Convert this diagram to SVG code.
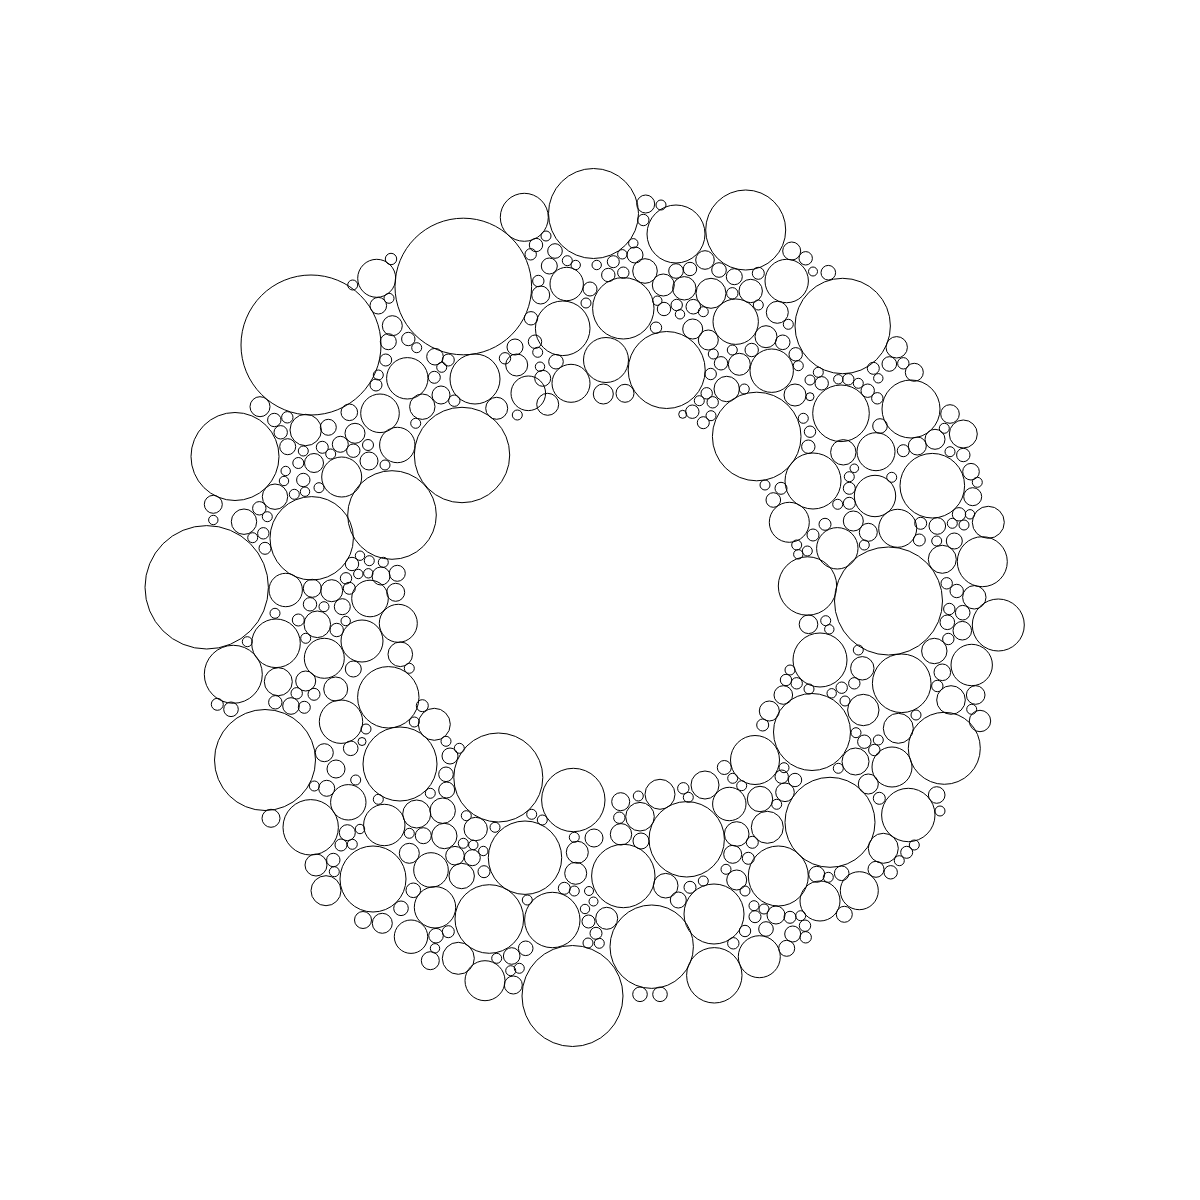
<svg xmlns="http://www.w3.org/2000/svg" width="1200" height="1200" viewBox="0 0 1200 1200">
<style>circle{fill:none;stroke:#000;stroke-width:1}</style>
<rect width="1200" height="1200" fill="#fff"/>
<g id="packing">
<circle cx="311" cy="345" r="70"/><circle cx="352.7" cy="285" r="5"/><circle cx="260" cy="406.7" r="10"/><circle cx="235" cy="456.5" r="44"/>
<circle cx="274.3" cy="420" r="6.7"/><circle cx="287.3" cy="417.3" r="5.7"/><circle cx="280.7" cy="432.3" r="6.7"/><circle cx="305.7" cy="430" r="15.7"/>
<circle cx="328.3" cy="427.3" r="8"/><circle cx="349.3" cy="412.3" r="8.3"/><circle cx="287.7" cy="446.7" r="8"/><circle cx="303.3" cy="451" r="5"/>
<circle cx="322.3" cy="447.3" r="6"/><circle cx="340.3" cy="444.3" r="8"/><circle cx="330.7" cy="454" r="5"/><circle cx="355" cy="433.3" r="10"/>
<circle cx="353.3" cy="450.7" r="6.7"/><circle cx="298.3" cy="463" r="5.5"/><circle cx="314" cy="463" r="9.5"/>
<circle cx="213.3" cy="504.3" r="9"/><circle cx="213.3" cy="520" r="4.7"/><circle cx="206.7" cy="587.3" r="61.7"/><circle cx="244" cy="521.7" r="12.7"/>
<circle cx="259.3" cy="508.3" r="6.7"/><circle cx="267.3" cy="516.7" r="5"/><circle cx="275" cy="496.7" r="12.7"/><circle cx="285.7" cy="471" r="4.7"/>
<circle cx="284" cy="481" r="4.7"/><circle cx="294.3" cy="494.3" r="5"/><circle cx="303.3" cy="480" r="6.7"/><circle cx="305" cy="491.7" r="4.7"/>
<circle cx="319" cy="487.7" r="5"/><circle cx="341.7" cy="477" r="20"/><circle cx="252.7" cy="537.7" r="5"/><circle cx="263.3" cy="533.3" r="5.7"/>
<circle cx="265" cy="548.3" r="6"/><circle cx="311.7" cy="538.3" r="41.7"/><circle cx="392" cy="515" r="44.3"/><circle cx="360" cy="555.7" r="4.7"/>
<circle cx="352" cy="564" r="6.7"/><circle cx="358.3" cy="574" r="4.7"/><circle cx="346" cy="578.3" r="5.7"/><circle cx="349.3" cy="588.3" r="6"/>
<circle cx="285.7" cy="590" r="16.7"/><circle cx="312.3" cy="588.3" r="9"/><circle cx="331.7" cy="590.7" r="11"/><circle cx="310" cy="604.3" r="6.7"/>
<circle cx="324" cy="606.7" r="5"/><circle cx="342.3" cy="606.7" r="8"/><circle cx="370" cy="598.5" r="18.3"/><circle cx="275" cy="613.3" r="5"/>
<circle cx="298.3" cy="620" r="6"/><circle cx="317.3" cy="624.3" r="13.3"/><circle cx="336.7" cy="630" r="6.7"/><circle cx="345.7" cy="621" r="4.7"/>
<circle cx="362" cy="641" r="21"/><circle cx="247.3" cy="641.7" r="5"/><circle cx="276" cy="643.3" r="24.3"/><circle cx="305.7" cy="638.3" r="5"/>
<circle cx="324.3" cy="658.3" r="20"/><circle cx="233.3" cy="674.3" r="29"/><circle cx="278.3" cy="681.7" r="14"/><circle cx="305.7" cy="681" r="10"/>
<circle cx="296.7" cy="693.3" r="5.7"/><circle cx="314" cy="694.3" r="6"/><circle cx="353.3" cy="669" r="8"/><circle cx="335.7" cy="689" r="12"/>
<circle cx="217.3" cy="704.3" r="6"/><circle cx="231" cy="709.3" r="7.3"/><circle cx="275.3" cy="702.3" r="6.7"/><circle cx="291" cy="706" r="8.3"/>
<circle cx="304.3" cy="707.3" r="6"/><circle cx="341" cy="721.7" r="21.7"/><circle cx="265" cy="760" r="50.5"/><circle cx="324.3" cy="752.7" r="9"/>
<circle cx="350.7" cy="748.3" r="7.3"/><circle cx="336" cy="769" r="9"/><circle cx="366" cy="729" r="5"/><circle cx="362" cy="741.5" r="4"/>
<circle cx="462" cy="455" r="47.7"/><circle cx="385" cy="465" r="5"/><circle cx="369.3" cy="560.7" r="5"/><circle cx="383.3" cy="562.3" r="5"/>
<circle cx="368.3" cy="573.3" r="4.7"/><circle cx="381" cy="576" r="9"/><circle cx="397.3" cy="573.3" r="8"/><circle cx="395.7" cy="592.3" r="9"/>
<circle cx="398.3" cy="623.3" r="19"/><circle cx="400.3" cy="654.3" r="12.3"/><circle cx="409.3" cy="668.3" r="5"/><circle cx="388.3" cy="697.3" r="30.7"/>
<circle cx="422.3" cy="705.7" r="6"/><circle cx="414.3" cy="722" r="5"/><circle cx="434.3" cy="724.3" r="16"/><circle cx="446" cy="741.3" r="5"/>
<circle cx="459.3" cy="748.3" r="5"/><circle cx="450" cy="756" r="8"/><circle cx="400" cy="764" r="37"/><circle cx="498.3" cy="777.5" r="44.5"/>
<circle cx="573.3" cy="800" r="31.7"/><circle cx="446" cy="774.3" r="7.3"/><circle cx="446.7" cy="790" r="8"/><circle cx="430.3" cy="793.3" r="5"/>
<circle cx="378.3" cy="799.3" r="5"/><circle cx="384.3" cy="825" r="20.7"/><circle cx="416.7" cy="814" r="14"/><circle cx="442.7" cy="810.7" r="12.7"/>
<circle cx="466.3" cy="815.7" r="5"/><circle cx="475.7" cy="829" r="11.7"/><circle cx="495" cy="827.3" r="5"/><circle cx="531.7" cy="814.3" r="5"/>
<circle cx="542.3" cy="820" r="5"/><circle cx="409.3" cy="833.3" r="5"/><circle cx="423.3" cy="835.7" r="8"/><circle cx="444.3" cy="836" r="12.7"/>
<circle cx="463.3" cy="843.3" r="5"/><circle cx="473.3" cy="845" r="4.7"/><circle cx="483.3" cy="851" r="4.7"/><circle cx="472.3" cy="857.7" r="8"/>
<circle cx="455" cy="855.7" r="9.3"/><circle cx="409.3" cy="853.3" r="10"/><circle cx="431" cy="870" r="17.3"/><circle cx="461.7" cy="876" r="12.7"/>
<circle cx="484" cy="871.7" r="6"/><circle cx="525" cy="857.7" r="36.7"/><circle cx="574.3" cy="837.3" r="5"/><circle cx="577.3" cy="852.3" r="11"/>
<circle cx="575.7" cy="873.3" r="11"/><circle cx="564.3" cy="888.3" r="6"/><circle cx="574.3" cy="891" r="5"/><circle cx="373" cy="879" r="33"/>
<circle cx="413.3" cy="890.3" r="7.3"/><circle cx="401" cy="908.3" r="7.3"/><circle cx="435" cy="907.3" r="20.7"/><circle cx="489.3" cy="919" r="34.3"/>
<circle cx="527.3" cy="900" r="5"/><circle cx="552.3" cy="920" r="27.7"/><circle cx="585" cy="909" r="4.7"/><circle cx="588.5" cy="921.5" r="6.5"/>
<circle cx="363" cy="920" r="8.5"/><circle cx="382.3" cy="923.3" r="10"/><circle cx="411" cy="936.7" r="16.7"/><circle cx="436" cy="935.7" r="7.3"/>
<circle cx="448.3" cy="931.7" r="6"/><circle cx="435" cy="948.3" r="4.7"/><circle cx="430.3" cy="960.7" r="9"/><circle cx="458.3" cy="958.3" r="16"/>
<circle cx="485" cy="980.7" r="20"/><circle cx="496.7" cy="958.3" r="5"/><circle cx="511.7" cy="956" r="8.3"/><circle cx="525.7" cy="948.3" r="7.3"/>
<circle cx="510.7" cy="970.7" r="5"/><circle cx="519.3" cy="968.3" r="5"/><circle cx="513.3" cy="985" r="9"/><circle cx="572.5" cy="996" r="50.5"/>
<circle cx="271" cy="818.3" r="9"/><circle cx="310.7" cy="827.3" r="27.7"/><circle cx="314.3" cy="786" r="5"/><circle cx="326.7" cy="788.3" r="8"/>
<circle cx="355.7" cy="780" r="5"/><circle cx="348.3" cy="802.3" r="17.7"/><circle cx="347.3" cy="832.7" r="8"/><circle cx="360" cy="829" r="4.7"/>
<circle cx="341" cy="845" r="6"/><circle cx="352.3" cy="844.3" r="5"/><circle cx="316" cy="865" r="11"/><circle cx="333.3" cy="860" r="6.7"/>
<circle cx="334.3" cy="871.7" r="5"/><circle cx="326" cy="890.7" r="15"/>
<circle cx="463.3" cy="286.5" r="68.3"/><circle cx="524.3" cy="217.3" r="24"/><circle cx="391" cy="259" r="5.7"/><circle cx="376.7" cy="278.3" r="19"/>
<circle cx="378.3" cy="305.7" r="8.3"/><circle cx="389" cy="298.3" r="5"/><circle cx="392.3" cy="325.7" r="10"/><circle cx="388.3" cy="341.7" r="8"/>
<circle cx="385.7" cy="360" r="6"/><circle cx="378.3" cy="375" r="5"/><circle cx="376" cy="385" r="6"/><circle cx="408.3" cy="339" r="6.7"/>
<circle cx="416.7" cy="347.7" r="5"/><circle cx="407.3" cy="378.3" r="20.7"/><circle cx="435" cy="356.7" r="8.3"/><circle cx="448.3" cy="360" r="6"/>
<circle cx="441.7" cy="367.3" r="5"/><circle cx="434.3" cy="377.3" r="6"/><circle cx="475" cy="379" r="25"/><circle cx="380" cy="413.3" r="19.3"/>
<circle cx="422.3" cy="406.7" r="12.7"/><circle cx="441" cy="395" r="9"/><circle cx="454.3" cy="400.7" r="5.7"/><circle cx="415.7" cy="423.3" r="5"/>
<circle cx="397.3" cy="445" r="17.7"/><circle cx="496.7" cy="408.3" r="11"/><circle cx="517.3" cy="415" r="5"/><circle cx="368" cy="445" r="5.5"/>
<circle cx="369" cy="461" r="9"/><circle cx="515" cy="347" r="8"/><circle cx="516.7" cy="365" r="11"/><circle cx="505" cy="358.3" r="5.7"/>
<circle cx="535" cy="341.7" r="6.7"/><circle cx="537.7" cy="352.3" r="5"/><circle cx="540" cy="366.7" r="4.7"/><circle cx="542.7" cy="378.3" r="8"/>
<circle cx="528.3" cy="393.3" r="17.3"/><circle cx="556" cy="361.7" r="7.3"/><circle cx="547.7" cy="404.3" r="11"/><circle cx="571" cy="383.3" r="19"/>
<circle cx="562.7" cy="328.3" r="27.3"/><circle cx="536" cy="245" r="6.7"/><circle cx="546" cy="236" r="5"/><circle cx="530.7" cy="254.3" r="5.7"/>
<circle cx="555" cy="251" r="7.3"/><circle cx="549.3" cy="266" r="8"/><circle cx="566.7" cy="284" r="16.7"/><circle cx="567.3" cy="260.7" r="5"/>
<circle cx="575.7" cy="265" r="4.7"/><circle cx="538.3" cy="281" r="5.7"/><circle cx="540.7" cy="295" r="9"/><circle cx="531" cy="318.3" r="6.7"/>
<circle cx="590" cy="289" r="7"/><circle cx="586" cy="303" r="5"/>
<circle cx="593.5" cy="213.5" r="45"/><circle cx="645.7" cy="204" r="9"/><circle cx="661" cy="205" r="5"/><circle cx="643.3" cy="220" r="5.7"/>
<circle cx="676" cy="234" r="29"/><circle cx="745.7" cy="230" r="40"/><circle cx="633.3" cy="243.3" r="4.7"/><circle cx="635" cy="255" r="8"/>
<circle cx="622.3" cy="254.3" r="4.7"/><circle cx="613.3" cy="261.7" r="6"/><circle cx="596.7" cy="265" r="4.7"/><circle cx="608.3" cy="275" r="6.7"/>
<circle cx="623.3" cy="272.7" r="5.7"/><circle cx="645" cy="271" r="12.3"/><circle cx="623.3" cy="308.3" r="30.7"/><circle cx="663.3" cy="285" r="11"/>
<circle cx="676" cy="271" r="7.3"/><circle cx="690" cy="269" r="6.7"/><circle cx="705" cy="260" r="9.3"/><circle cx="719" cy="270" r="7.3"/>
<circle cx="734.3" cy="276.7" r="8"/><circle cx="758.3" cy="273.3" r="6"/><circle cx="791.7" cy="251" r="9"/><circle cx="805.7" cy="258.3" r="6.7"/>
<circle cx="786.7" cy="281" r="21.7"/><circle cx="813" cy="271.5" r="4.5"/><circle cx="684.3" cy="288.3" r="11.7"/><circle cx="711" cy="293.3" r="15"/>
<circle cx="732.3" cy="293.3" r="5.7"/><circle cx="750.7" cy="291" r="11.7"/><circle cx="758.3" cy="305" r="5"/><circle cx="657.3" cy="300.7" r="4.7"/>
<circle cx="664" cy="309" r="6.7"/><circle cx="676.7" cy="305" r="5.7"/><circle cx="680" cy="314.3" r="4.7"/><circle cx="693.3" cy="306.7" r="7.3"/>
<circle cx="703.3" cy="311.7" r="5"/><circle cx="735.7" cy="321.7" r="22.7"/><circle cx="777.3" cy="312.3" r="11"/><circle cx="788.3" cy="324.3" r="5"/>
<circle cx="656" cy="327.7" r="5.7"/><circle cx="692.7" cy="329" r="10"/><circle cx="708.3" cy="340" r="10"/><circle cx="766" cy="336.7" r="11"/>
<circle cx="782.7" cy="342.3" r="7.3"/><circle cx="606" cy="360" r="22.5"/><circle cx="666.7" cy="370" r="38.5"/><circle cx="713.3" cy="354" r="5"/>
<circle cx="721" cy="363.3" r="6.7"/><circle cx="732.3" cy="350" r="5"/><circle cx="739.3" cy="364.3" r="11"/><circle cx="751.7" cy="350" r="6.7"/>
<circle cx="771.7" cy="370.7" r="21.7"/><circle cx="795.7" cy="354.3" r="6.7"/><circle cx="798.3" cy="365.7" r="5"/><circle cx="810" cy="380" r="5"/>
<circle cx="810" cy="396.7" r="4"/><circle cx="710.7" cy="374" r="5.7"/><circle cx="726.7" cy="389" r="12.7"/><circle cx="744.3" cy="389" r="5"/>
<circle cx="706.7" cy="393.3" r="5.7"/><circle cx="712.7" cy="402.3" r="5.7"/><circle cx="699.3" cy="400.7" r="5"/><circle cx="692.3" cy="411.7" r="6.7"/>
<circle cx="682.7" cy="414.3" r="4"/><circle cx="711" cy="415.7" r="5"/><circle cx="703.3" cy="422.7" r="6"/><circle cx="603.3" cy="394" r="10"/>
<circle cx="625" cy="393.3" r="9"/><circle cx="756.7" cy="436.5" r="44.3"/><circle cx="803.3" cy="418.3" r="5"/><circle cx="810" cy="431.7" r="5.7"/>
<circle cx="808.3" cy="446.7" r="6.7"/><circle cx="795" cy="395" r="11"/>
<circle cx="828.3" cy="272.7" r="7.3"/><circle cx="842.7" cy="326" r="47.7"/><circle cx="896.7" cy="347.3" r="10.7"/><circle cx="889.3" cy="364" r="7.3"/>
<circle cx="903.3" cy="363.3" r="5.7"/><circle cx="914.3" cy="372.3" r="9"/><circle cx="873.3" cy="368.3" r="6"/><circle cx="878.3" cy="378.3" r="4.7"/>
<circle cx="818.3" cy="372.3" r="5"/><circle cx="821.7" cy="383.3" r="6.7"/><circle cx="838.3" cy="379.3" r="4.7"/><circle cx="848.3" cy="379.3" r="5.7"/>
<circle cx="858.3" cy="383.3" r="5"/><circle cx="867.7" cy="390.7" r="6.7"/><circle cx="877.3" cy="398.3" r="5.7"/><circle cx="841" cy="413.3" r="28.3"/>
<circle cx="911" cy="409" r="29"/><circle cx="950" cy="414" r="9.3"/><circle cx="944.3" cy="428.3" r="5"/><circle cx="963.3" cy="434" r="14"/>
<circle cx="935" cy="439.3" r="10"/><circle cx="917.3" cy="446" r="9"/><circle cx="903.3" cy="450.7" r="6"/><circle cx="880" cy="426" r="7.3"/>
<circle cx="876" cy="451.7" r="19"/><circle cx="843.3" cy="452.3" r="12.7"/><circle cx="950" cy="451.7" r="5"/><circle cx="963.3" cy="455" r="6.7"/>
<circle cx="813" cy="481" r="28"/><circle cx="854.3" cy="468.3" r="4.3"/><circle cx="849.3" cy="476.7" r="5"/><circle cx="849.3" cy="488.3" r="6"/>
<circle cx="837.7" cy="504.3" r="5"/><circle cx="849.3" cy="503.3" r="6"/><circle cx="875" cy="496" r="20.7"/><circle cx="891.7" cy="477.3" r="5"/>
<circle cx="932.3" cy="485.7" r="32.3"/><circle cx="971" cy="471.7" r="8.3"/><circle cx="977.3" cy="482.3" r="5"/><circle cx="972.7" cy="496.7" r="9"/>
<circle cx="825" cy="524.3" r="6"/><circle cx="853.3" cy="521" r="10"/><circle cx="868.3" cy="532.3" r="9"/><circle cx="864.3" cy="545" r="5"/>
<circle cx="837.3" cy="548.3" r="20.7"/><circle cx="897.7" cy="528.3" r="19"/><circle cx="920.7" cy="523.3" r="6"/><circle cx="919.3" cy="540" r="6"/>
<circle cx="937.3" cy="526" r="8.3"/><circle cx="936.7" cy="541" r="5"/><circle cx="952.3" cy="523.3" r="5"/><circle cx="959" cy="514.3" r="6.7"/>
<circle cx="964" cy="525" r="5"/><circle cx="970" cy="514.3" r="4.7"/><circle cx="988.3" cy="522.3" r="16"/><circle cx="954.3" cy="541" r="8"/>
<circle cx="942.3" cy="559.3" r="14"/><circle cx="982.3" cy="561.7" r="25"/><circle cx="813" cy="535" r="6"/><circle cx="888.5" cy="601" r="54"/>
<circle cx="807.5" cy="586" r="29.2"/><circle cx="946.7" cy="583.3" r="5.7"/><circle cx="956.7" cy="591" r="6.7"/><circle cx="974.3" cy="597.3" r="11.7"/>
<circle cx="998.3" cy="625" r="26"/><circle cx="949.3" cy="609" r="5.7"/><circle cx="962.7" cy="612.7" r="7.3"/><circle cx="947.3" cy="622.3" r="7.3"/>
<circle cx="962.3" cy="630.7" r="9.3"/><circle cx="948.3" cy="639" r="5.7"/><circle cx="825.7" cy="620.7" r="5"/><circle cx="829.3" cy="629.3" r="4.7"/>
<circle cx="808.5" cy="624.3" r="9.3"/><circle cx="820" cy="660" r="27"/><circle cx="858.3" cy="650" r="5"/><circle cx="862.3" cy="668.3" r="11.7"/>
<circle cx="854.3" cy="683.3" r="5.7"/><circle cx="841.7" cy="687.7" r="5.7"/><circle cx="831.7" cy="693.3" r="4.7"/><circle cx="845" cy="701" r="5"/>
<circle cx="901.7" cy="683.3" r="29.3"/><circle cx="934.3" cy="651" r="12.7"/><circle cx="971.7" cy="665" r="20.7"/><circle cx="942.3" cy="672.3" r="8.3"/>
<circle cx="937.3" cy="686" r="5.7"/><circle cx="951" cy="700" r="14.3"/><circle cx="975.7" cy="695" r="9.3"/><circle cx="971.7" cy="709.3" r="5"/>
<circle cx="980" cy="721" r="10.7"/><circle cx="863.3" cy="710" r="15.7"/><circle cx="916" cy="715" r="5"/><circle cx="898.3" cy="728.3" r="15"/>
<circle cx="944.3" cy="748.3" r="36"/><circle cx="812" cy="732" r="38.5"/><circle cx="856" cy="732.7" r="5"/><circle cx="864.3" cy="741.7" r="6.7"/>
<circle cx="878.3" cy="740" r="5"/><circle cx="874.3" cy="750" r="5.7"/><circle cx="855.5" cy="761.5" r="13.5"/><circle cx="892" cy="767" r="20"/>
<circle cx="838.3" cy="768.3" r="5"/><circle cx="868.3" cy="784" r="10"/><circle cx="879.3" cy="798.3" r="6"/><circle cx="830" cy="822.3" r="45"/>
<circle cx="908.3" cy="815" r="26.7"/><circle cx="936.7" cy="795" r="8.3"/><circle cx="940" cy="811" r="5"/><circle cx="883.3" cy="848.3" r="15"/>
<circle cx="914.3" cy="845" r="5"/><circle cx="906.7" cy="852.3" r="6"/><circle cx="899.3" cy="860.7" r="5"/><circle cx="876" cy="869.3" r="8"/>
<circle cx="890.7" cy="872.3" r="6.7"/><circle cx="816.7" cy="874.3" r="8"/><circle cx="828.3" cy="877.3" r="5"/><circle cx="841.7" cy="873.3" r="7.3"/>
<circle cx="859.3" cy="890.7" r="19"/><circle cx="820" cy="901" r="20"/><circle cx="844.3" cy="914.3" r="8"/>
<circle cx="724.3" cy="767.5" r="7"/><circle cx="755" cy="760" r="24.5"/><circle cx="784" cy="767.7" r="5"/><circle cx="732.7" cy="778.3" r="5"/>
<circle cx="741.7" cy="785.7" r="5"/><circle cx="781.7" cy="776.7" r="6.7"/><circle cx="795" cy="780" r="6.7"/><circle cx="785" cy="792.3" r="9.3"/>
<circle cx="776.7" cy="804.3" r="5"/><circle cx="760" cy="799" r="12.7"/><circle cx="729.3" cy="804" r="16.7"/><circle cx="705" cy="785" r="14"/>
<circle cx="683.3" cy="788.3" r="5.7"/><circle cx="688.3" cy="797.3" r="5"/><circle cx="660" cy="794.3" r="15"/><circle cx="638.3" cy="796" r="5"/>
<circle cx="620.7" cy="801.7" r="9"/><circle cx="619.3" cy="817.7" r="5.7"/><circle cx="640" cy="816.7" r="14.3"/><circle cx="621" cy="834.3" r="10.7"/>
<circle cx="641" cy="841" r="8"/><circle cx="594" cy="838" r="9"/><circle cx="686.7" cy="839.3" r="37.7"/><circle cx="736.7" cy="834" r="12.3"/>
<circle cx="752.3" cy="842.3" r="6"/><circle cx="767.3" cy="827.3" r="16"/><circle cx="623.3" cy="876" r="31.7"/><circle cx="732.7" cy="854.3" r="9"/>
<circle cx="748.3" cy="858.3" r="6"/><circle cx="726" cy="869.3" r="5"/><circle cx="736.7" cy="880" r="10"/><circle cx="745" cy="891" r="5"/>
<circle cx="778.3" cy="876" r="30"/><circle cx="665.7" cy="885.7" r="12.3"/><circle cx="690" cy="887.3" r="6"/><circle cx="703.3" cy="881" r="5"/>
<circle cx="678.3" cy="900" r="8"/><circle cx="714" cy="914" r="30"/><circle cx="589" cy="891" r="4.5"/><circle cx="593.5" cy="901.5" r="4.5"/>
<circle cx="606.7" cy="918.3" r="11"/><circle cx="596" cy="933.3" r="6"/><circle cx="599.3" cy="943.3" r="5"/><circle cx="588" cy="943" r="5"/>
<circle cx="651.7" cy="946.7" r="41.7"/><circle cx="754" cy="905.7" r="5"/><circle cx="764" cy="909" r="5"/><circle cx="755" cy="916.7" r="6"/>
<circle cx="776" cy="915" r="9"/><circle cx="790" cy="917.3" r="6"/><circle cx="800.7" cy="915.7" r="5"/><circle cx="805" cy="925.7" r="5.7"/>
<circle cx="805.7" cy="937.3" r="5.7"/><circle cx="792.7" cy="934" r="8"/><circle cx="766" cy="929" r="7.3"/><circle cx="745" cy="931" r="5.7"/>
<circle cx="733.3" cy="943.3" r="5.7"/><circle cx="786.7" cy="948.3" r="8"/><circle cx="759.3" cy="956.7" r="21"/><circle cx="714.3" cy="975.3" r="27.7"/>
<circle cx="640" cy="994.3" r="7.3"/><circle cx="660" cy="994.3" r="7.3"/>
<circle cx="765" cy="485" r="5"/><circle cx="781" cy="488.3" r="6"/><circle cx="773.3" cy="500" r="7.3"/><circle cx="789.3" cy="522.3" r="20"/>
<circle cx="796.7" cy="545" r="5"/><circle cx="807.3" cy="551" r="5"/><circle cx="798.3" cy="554.3" r="4.7"/><circle cx="790" cy="670" r="5"/>
<circle cx="786" cy="680" r="5.7"/><circle cx="796.7" cy="683.3" r="5.7"/><circle cx="809" cy="689" r="5"/><circle cx="783.3" cy="695" r="9.3"/>
<circle cx="769.3" cy="711" r="10"/><circle cx="762.7" cy="725" r="6"/>
</g>
</svg>
